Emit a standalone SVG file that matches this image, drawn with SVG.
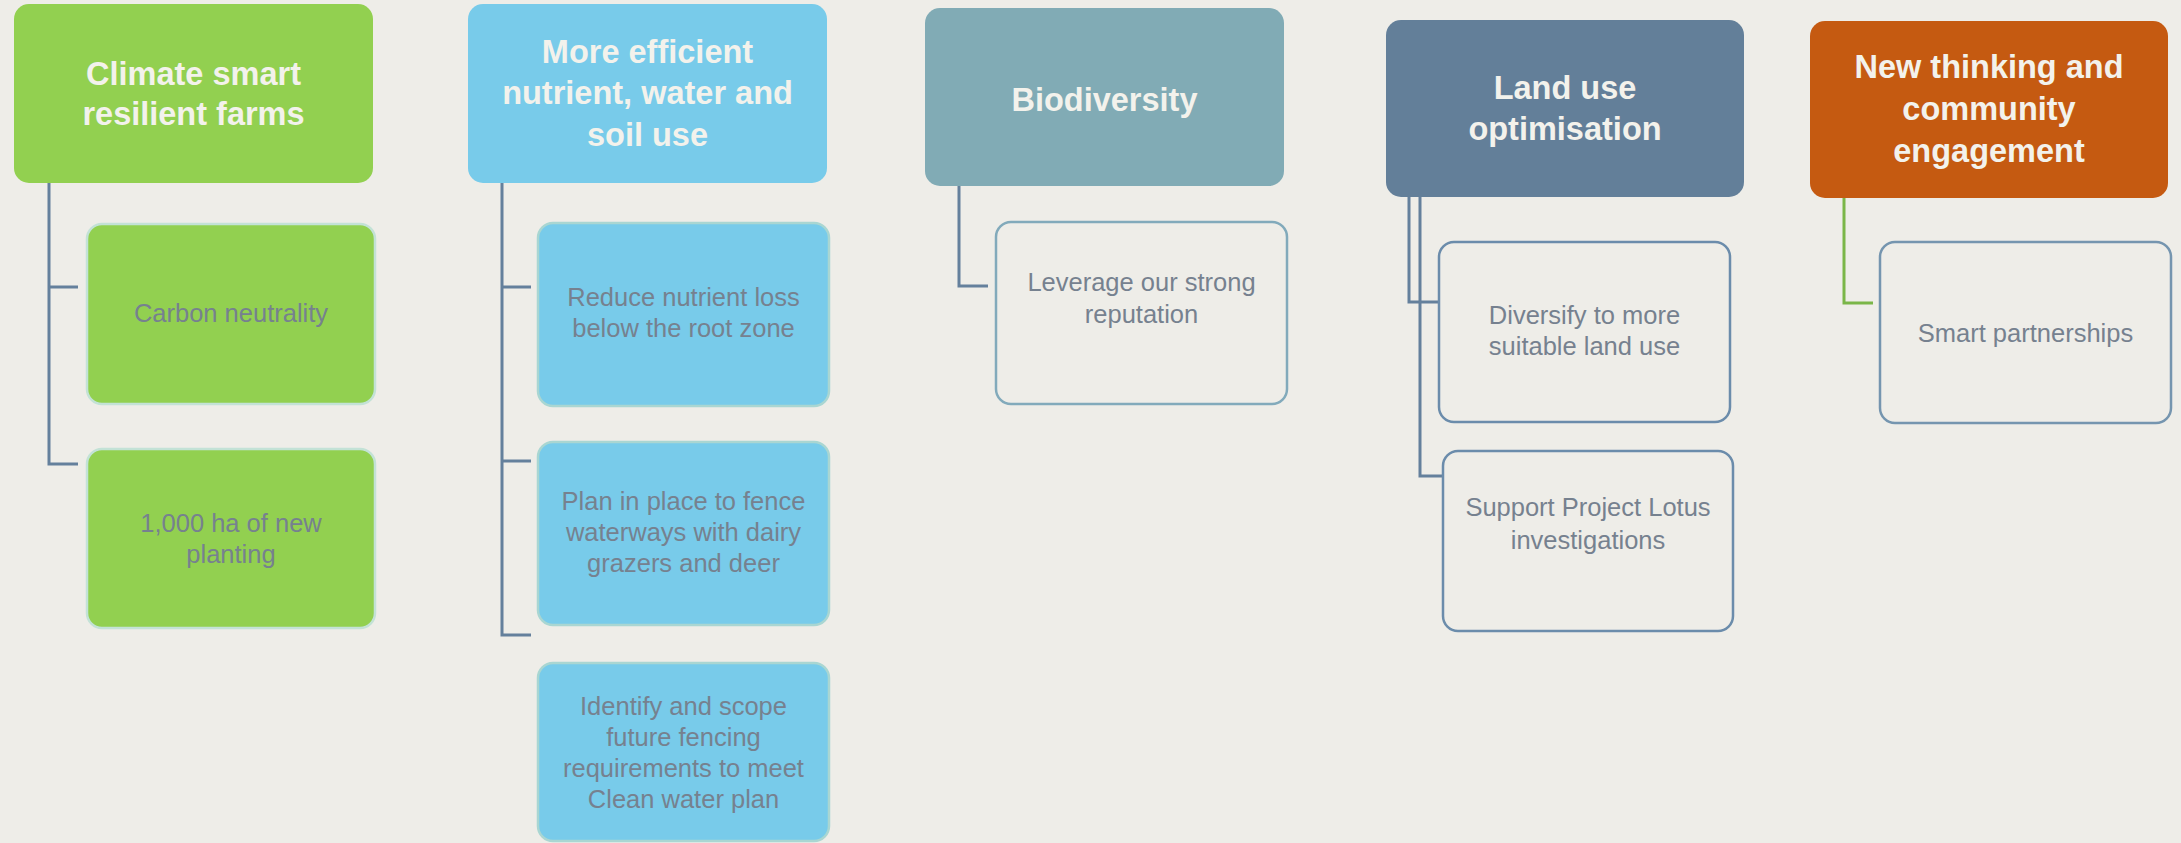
<svg xmlns="http://www.w3.org/2000/svg" width="2181" height="843" viewBox="0 0 2181 843">
  <style>
    .hdr-t { font-family: "Liberation Sans", Arial, sans-serif; font-weight: bold; font-size: 32.5px; fill: #f3f2ec; text-anchor: middle; }
    .ch-t { font-family: "Liberation Sans", Arial, sans-serif; font-size: 25.5px; fill: #76818f; text-anchor: middle; }
    .conn { fill: none; stroke: #64809c; stroke-width: 3; }
    .conn-g { fill: none; stroke: #7ab648; stroke-width: 3; }
    .green { fill: #92d050; stroke: #c3e2d6; stroke-width: 2.5; }
    .blue { fill: #78cbea; stroke: #a9d6d2; stroke-width: 2.5; }
    .out3 { fill: #eeede8; stroke: #82aabb; stroke-width: 2.5; }
    .out4 { fill: #eeede8; stroke: #6b8cab; stroke-width: 2.5; }
    .out5 { fill: #eeede8; stroke: #7595af; stroke-width: 2.5; }
  </style>
  <rect x="0" y="0" width="2181" height="843" fill="#eeede8"/>

  <g id="connectors">
    <path class="conn" d="M49,183 V464 H78 M49,287 H78"/>
    <path class="conn" d="M502,183 V635 H531 M502,287 H531 M502,461 H531"/>
    <path class="conn" d="M959,186 V286 H988"/>
    <path class="conn" d="M1409,197 V302 H1439"/>
    <path class="conn" d="M1420,197 V476 H1443"/>
    <path class="conn-g" d="M1844,198 V303 H1873"/>
  </g>

  <g id="h1">
    <rect x="14" y="4" width="359" height="179" rx="15" fill="#92d050"/>
    <text class="hdr-t" x="193.5" y="85">Climate smart</text>
    <text class="hdr-t" x="193.5" y="125">resilient farms</text>
  </g>
  <g id="c1a">
    <rect class="green" x="87" y="224" width="288" height="180" rx="15"/>
    <text class="ch-t" x="231" y="322">Carbon neutrality</text>
  </g>
  <g id="c1b">
    <rect class="green" x="87" y="449" width="288" height="179" rx="15"/>
    <text class="ch-t" x="231" y="532">1,000 ha of new</text>
    <text class="ch-t" x="231" y="563">planting</text>
  </g>

  <g id="h2">
    <rect x="468" y="4" width="359" height="179" rx="15" fill="#78cbea"/>
    <text class="hdr-t" x="647.5" y="63">More efficient</text>
    <text class="hdr-t" x="647.5" y="104">nutrient, water and</text>
    <text class="hdr-t" x="647.5" y="146">soil use</text>
  </g>
  <g id="c2a">
    <rect class="blue" x="538" y="223" width="291" height="183" rx="15"/>
    <text class="ch-t" x="683.5" y="306">Reduce nutrient loss</text>
    <text class="ch-t" x="683.5" y="337">below the root zone</text>
  </g>
  <g id="c2b">
    <rect class="blue" x="538" y="442" width="291" height="183" rx="15"/>
    <text class="ch-t" x="683.5" y="510">Plan in place to fence</text>
    <text class="ch-t" x="683.5" y="541">waterways with dairy</text>
    <text class="ch-t" x="683.5" y="572">grazers and deer</text>
  </g>
  <g id="c2c">
    <rect class="blue" x="538" y="663" width="291" height="178" rx="15"/>
    <text class="ch-t" x="683.5" y="715">Identify and scope</text>
    <text class="ch-t" x="683.5" y="746">future fencing</text>
    <text class="ch-t" x="683.5" y="777">requirements to meet</text>
    <text class="ch-t" x="683.5" y="808">Clean water plan</text>
  </g>

  <g id="h3">
    <rect x="925" y="8" width="359" height="178" rx="15" fill="#81abb5"/>
    <text class="hdr-t" x="1104.5" y="111">Biodiversity</text>
  </g>
  <g id="c3a">
    <rect class="out3" x="996" y="222" width="291" height="182" rx="15"/>
    <text class="ch-t" x="1141.5" y="291">Leverage our strong</text>
    <text class="ch-t" x="1141.5" y="323">reputation</text>
  </g>

  <g id="h4">
    <rect x="1386" y="20" width="358" height="177" rx="15" fill="#637f99"/>
    <text class="hdr-t" x="1565" y="99">Land use</text>
    <text class="hdr-t" x="1565" y="140">optimisation</text>
  </g>
  <g id="c4a">
    <rect class="out4" x="1439" y="242" width="291" height="180" rx="15"/>
    <text class="ch-t" x="1584.5" y="324">Diversify to more</text>
    <text class="ch-t" x="1584.5" y="355">suitable land use</text>
  </g>
  <g id="c4b">
    <rect class="out4" x="1443" y="451" width="290" height="180" rx="15"/>
    <text class="ch-t" x="1588" y="516">Support Project Lotus</text>
    <text class="ch-t" x="1588" y="549">investigations</text>
  </g>

  <g id="h5">
    <rect x="1810" y="21" width="358" height="177" rx="15" fill="#c55a11"/>
    <text class="hdr-t" x="1989" y="78">New thinking and</text>
    <text class="hdr-t" x="1989" y="120">community</text>
    <text class="hdr-t" x="1989" y="162">engagement</text>
  </g>
  <g id="c5a">
    <rect class="out5" x="1880" y="242" width="291" height="181" rx="15"/>
    <text class="ch-t" x="2025.5" y="342">Smart partnerships</text>
  </g>
</svg>
